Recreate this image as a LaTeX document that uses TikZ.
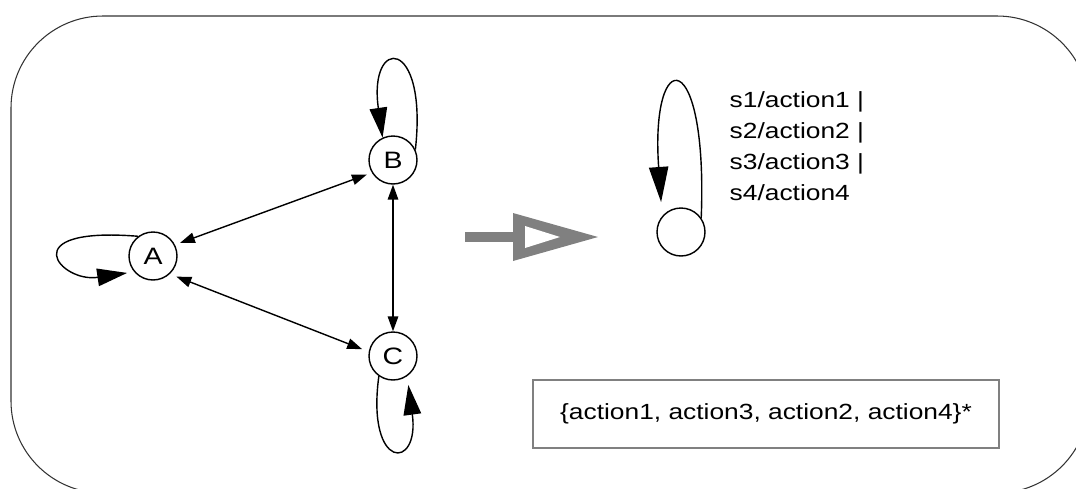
\documentclass[tikz,border=0pt]{standalone}
\usepackage{fontspec}
\newfontfamily\diafont[FakeStretch=1.2]{Liberation Sans}
\usetikzlibrary{arrows.meta}

\begin{document}
\begin{tikzpicture}
    [x=0.02cm, y=-0.02cm,
    thick,
    state/.style={draw=black, circle, minimum size=0.96cm, inner sep=0pt,
      font=\diafont\fontsize{13.5}{16}\selectfont},
    small tip/.style={{Triangle[length=8.5pt,width=6pt]}-{Triangle[length=8.5pt,width=6pt]}},
    big tip/.style={-{Triangle[length=17pt,width=10pt]}},
    every node/.style={font=\diafont\fontsize{12.5}{17.6}\selectfont}]
    \useasboundingbox (0,0) rectangle (1076,488);
    \begin{scope}
      \clip (0,0) rectangle (1076,488);
      \draw[black!80, semithick, rounded corners=1.84cm] (11,16) rectangle (1089,493);
    \end{scope}
    % the three states
    \node[state] (A) at (153,256) {A};
    \node[state] (B) at (393,160) {B};
    \node[state] (C) at (393,356) {C};
    \draw[small tip, shorten <=3pt, shorten >=3pt] (A.27) -- (B.211);
    \draw[small tip, shorten <=4pt, shorten >=4pt] (A.-47) -- (C.170);
    \draw[small tip] (B) -- (C);
    \draw[big tip, shorten >=4pt] (A.127) .. controls (12,226) and (60,283) .. (A.220);
    \draw[big tip] (B.25) .. controls (428,36) and (368,36) .. (B.115);
    \draw[big tip, shorten >=5pt] (C.235) .. controls (366,471) and (420,471) .. (C.-55);
    % hollow arrow
    \fill[gray] (465,232) rectangle (514,242);
    \fill[gray] (513,213) -- (598,237) -- (513,261) -- cycle;
    \fill[white] (525,226) -- (560,237) -- (525,248) -- cycle;
    % the single state
    \node[state] (S) at (681,232) {};
    \draw[-{Triangle[length=20pt,width=11pt]}, shorten >=8pt] (S.35) .. controls (708,44) and (650,44) .. (S.140);
    \node[anchor=north west, align=left, inner sep=0pt] (lbl) at (729,91)
      {s1/action1 |\\ s2/action2 |\\ s3/action3 |\\ s4/action4};
    \node[draw=gray, minimum width=9.32cm, minimum height=1.36cm] (seq) at (766,414)
      {\{action1, action3, action2, action4\}*};
\end{tikzpicture}
\end{document}
